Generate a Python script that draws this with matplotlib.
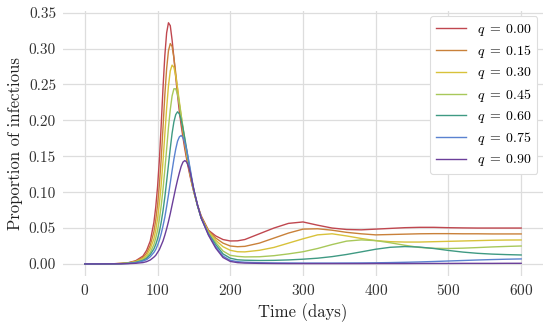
import numpy as np
import matplotlib
matplotlib.use("Agg")
import matplotlib.pyplot as plt

plt.rcParams['font.family'] = ['cmr10', 'DejaVu Serif']
plt.rcParams['mathtext.fontset'] = 'cm'
plt.rcParams['axes.formatter.use_mathtext'] = True

# time grid (days), finer around the peaks
t = [0, 20, 40, 50, 60, 70, 80, 85, 90,
     95, 97.5, 100, 102.5, 105, 107.5, 110, 112.5, 115, 117.5, 120, 122.5,
     125, 127.5, 130, 132.5, 135, 137.5, 140, 142.5, 145, 147.5, 150,
     155, 160, 170, 180, 190, 200, 210, 220, 240,
     260, 280, 300, 320, 340, 360, 380, 400, 420, 440, 460, 480, 500, 520,
     540, 560, 580, 600]

q_values = [0.00, 0.15, 0.30, 0.45, 0.60, 0.75, 0.90]

inf_q000 = [0.0, 0.0001, 0.0003, 0.0008, 0.0018, 0.0045, 0.011, 0.019, 0.032,
            0.058, 0.079, 0.107, 0.145, 0.193, 0.245, 0.29, 0.322, 0.336, 0.332, 0.312, 0.287,
            0.26, 0.235, 0.212, 0.193, 0.176, 0.16, 0.146, 0.133, 0.121, 0.11, 0.1,
            0.082, 0.067, 0.047, 0.039, 0.034, 0.032, 0.0322, 0.034, 0.042,
            0.05, 0.0565, 0.0585, 0.054, 0.05, 0.048, 0.0475, 0.0485, 0.0495, 0.0505,
            0.051, 0.051, 0.0505, 0.0502, 0.05, 0.05, 0.05, 0.05]
inf_q015 = [0.0, 0.0001, 0.0003, 0.0007, 0.0015, 0.0038, 0.009, 0.015, 0.026,
            0.045, 0.061, 0.082, 0.11, 0.146, 0.19, 0.235, 0.272, 0.297, 0.307, 0.303, 0.287,
            0.266, 0.243, 0.221, 0.2, 0.182, 0.165, 0.15, 0.136, 0.123, 0.111, 0.1,
            0.081, 0.066, 0.046, 0.036, 0.029, 0.025, 0.024, 0.0245, 0.029,
            0.036, 0.043, 0.0485, 0.049, 0.047, 0.044, 0.042, 0.0405, 0.041, 0.0415,
            0.042, 0.0422, 0.0422, 0.042, 0.042, 0.0418, 0.0418, 0.0418]
inf_q030 = [0.0, 0.0001, 0.0002, 0.0006, 0.0013, 0.0032, 0.0075, 0.012, 0.021,
            0.035, 0.047, 0.063, 0.084, 0.11, 0.143, 0.18, 0.217, 0.248, 0.269, 0.277, 0.274,
            0.262, 0.245, 0.226, 0.207, 0.188, 0.17, 0.154, 0.139, 0.125, 0.112, 0.101,
            0.081, 0.065, 0.045, 0.033, 0.024, 0.019, 0.017, 0.0168, 0.019,
            0.023, 0.029, 0.035, 0.0405, 0.042, 0.039, 0.0355, 0.0325, 0.031, 0.0305,
            0.0305, 0.031, 0.0315, 0.032, 0.0325, 0.033, 0.0333, 0.0334]
inf_q045 = [0.0, 0.0001, 0.0002, 0.0005, 0.0011, 0.0026, 0.006, 0.0095, 0.016,
            0.027, 0.036, 0.047, 0.062, 0.081, 0.104, 0.131, 0.16, 0.19, 0.215, 0.234, 0.244,
            0.244, 0.236, 0.223, 0.207, 0.19, 0.173, 0.157, 0.141, 0.127, 0.114, 0.102,
            0.081, 0.064, 0.043, 0.03, 0.018, 0.012, 0.0105, 0.0098, 0.01,
            0.0115, 0.014, 0.017, 0.0215, 0.027, 0.0318, 0.0335, 0.0325, 0.0295, 0.026,
            0.023, 0.0218, 0.0215, 0.022, 0.0228, 0.0237, 0.0244, 0.025]
inf_q060 = [0.0, 0.0001, 0.0002, 0.0004, 0.0009, 0.0022, 0.005, 0.0078, 0.013,
            0.021, 0.027, 0.035, 0.045, 0.058, 0.074, 0.093, 0.115, 0.138, 0.161, 0.182, 0.198,
            0.208, 0.212, 0.209, 0.201, 0.189, 0.175, 0.16, 0.144, 0.129, 0.115, 0.102,
            0.081, 0.064, 0.042, 0.027, 0.014, 0.008, 0.0058, 0.0052, 0.0048,
            0.005, 0.0056, 0.0066, 0.008, 0.0102, 0.0132, 0.0168, 0.0205, 0.0232, 0.0242,
            0.0235, 0.0215, 0.0188, 0.0165, 0.0148, 0.0137, 0.013, 0.0125]
inf_q075 = [0.0, 0.0001, 0.0002, 0.0003, 0.0007, 0.0017, 0.004, 0.006, 0.01,
            0.016, 0.02, 0.026, 0.033, 0.042, 0.053, 0.065, 0.08, 0.096, 0.113, 0.13, 0.146,
            0.16, 0.171, 0.177, 0.179, 0.176, 0.169, 0.159, 0.146, 0.132, 0.117, 0.103,
            0.082, 0.064, 0.041, 0.024, 0.011, 0.005, 0.0032, 0.0024, 0.0017,
            0.0014, 0.0013, 0.0012, 0.0012, 0.0012, 0.0013, 0.0014, 0.0016, 0.0019, 0.0023,
            0.0028, 0.0034, 0.0041, 0.0048, 0.0055, 0.0061, 0.0066, 0.007]
inf_q090 = [0.0, 0.0, 0.0001, 0.0002, 0.0004, 0.0009, 0.0019, 0.0032, 0.0055,
            0.0095, 0.012, 0.016, 0.02, 0.026, 0.032, 0.04, 0.049, 0.059, 0.07, 0.082, 0.094,
            0.106, 0.117, 0.127, 0.136, 0.142, 0.144, 0.142, 0.136, 0.127, 0.115, 0.103,
            0.082, 0.064, 0.04, 0.022, 0.009, 0.0035, 0.0018, 0.0012, 0.0008,
            0.0006, 0.0005, 0.0005, 0.0005, 0.0005, 0.0005, 0.0005, 0.0006, 0.0006, 0.0006,
            0.0007, 0.0007, 0.0007, 0.0008, 0.0008, 0.0008, 0.0009, 0.0009]

series = [inf_q000, inf_q015, inf_q030, inf_q045, inf_q060, inf_q075, inf_q090]
colors = ['#c0474f', '#c9813a', '#d8c23a', '#a8c85a', '#3f9a83', '#5a82d0', '#6b3f9a']

fig = plt.figure(figsize=(5.5, 3.25), dpi=100)
ax = fig.add_axes([63 / 550, 1 - 276 / 325, 480 / 550, 265.3 / 325])

for q, y, c in zip(q_values, series, colors):
    ax.plot(t, y, color=c, linewidth=1.0, label=r'$q\;=\;%.2f$' % q)

ax.set_xlim(-30, 630)
ax.set_ylim(-0.0168, 0.3528)
ax.set_xticks(np.arange(0, 601, 100))
ax.set_yticks(np.arange(0, 0.351, 0.05))
ax.yaxis.set_major_formatter(matplotlib.ticker.FormatStrFormatter('%.2f'))

ax.grid(True, color='#dddddd', linewidth=0.9)
ax.set_axisbelow(True)
for s in ax.spines.values():
    s.set_visible(False)
ax.tick_params(length=0, labelsize=11, colors='#333333', pad=5)

ax.set_xlabel('Time (days)', fontsize=12, color='#222222')
ax.set_ylabel('Proportion of infectious', fontsize=12, color='#222222')

leg = ax.legend(loc='upper right', fontsize=10, frameon=True, fancybox=True,
                edgecolor='#dddddd', framealpha=1.0, borderaxespad=0.4,
                labelspacing=0.38, handlelength=2.2)
leg.get_frame().set_linewidth(0.8)

fig.savefig('out.png', dpi=100)
